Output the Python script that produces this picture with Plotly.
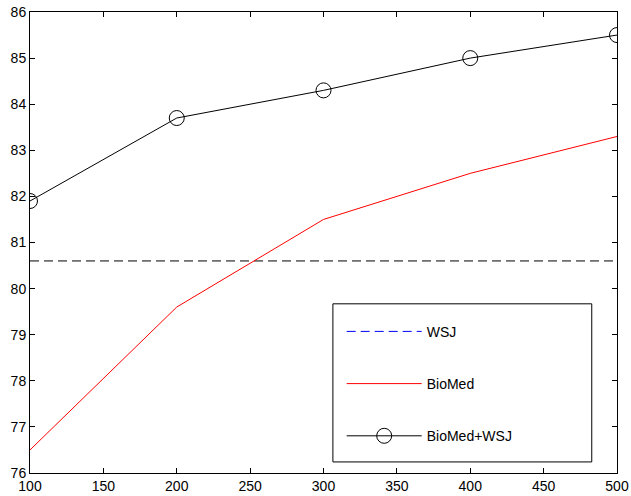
import plotly.graph_objects as go

x_vals = [100, 200, 300, 400, 500]
wsj_x = [100, 500]
wsj_vals = [80.6, 80.6]
biomed_vals = [76.5, 79.6, 81.5, 82.5, 83.3]
biomed_wsj_vals = [81.9, 83.7, 84.3, 85.0, 85.5]
series_names = ["WSJ", "BioMed", "BioMed+WSJ"]

fig = go.Figure()
fig.add_trace(go.Scatter(x=wsj_x, y=wsj_vals, mode="lines",
                         line=dict(color="black", width=1, dash="9px,5px"),
                         showlegend=False, hoverinfo="skip"))
fig.add_trace(go.Scatter(x=[None], y=[None], mode="lines", name=series_names[0],
                         line=dict(color="#0000ff", width=1, dash="9px,5px"),
                         legendgroup="a", showlegend=True))
fig.add_trace(go.Scatter(x=x_vals, y=biomed_vals, mode="lines", name=series_names[1],
                         line=dict(color="red", width=1), legendgroup="b"))
fig.add_trace(go.Scatter(x=x_vals, y=biomed_wsj_vals, mode="lines+markers", name=series_names[2],
                         line=dict(color="black", width=1),
                         marker=dict(symbol="circle-open", size=15, color="black",
                                     line=dict(width=1, color="black")),
                         legendgroup="c"))

axis_common = dict(showgrid=False, zeroline=False, showline=True, linecolor="black",
                   linewidth=1, mirror="ticks", ticks="inside", ticklen=5,
                   tickcolor="black", tickfont=dict(size=14, color="black"),
                   automargin=False)

fig.update_xaxes(range=[100, 500], dtick=50, tick0=100, **axis_common)
fig.update_yaxes(range=[76, 86], dtick=1, tick0=76, **axis_common)

# legend frame (matches the reference's wide legend box)
fig.add_shape(type="rect", xref="paper", yref="paper",
              x0=0.516, x1=0.957, y0=0.024, y1=0.367,
              line=dict(color="black", width=1), fillcolor="white", layer="below")

fig.update_layout(
    width=631, height=496,
    margin=dict(l=30, r=14, t=12, b=23),
    plot_bgcolor="white", paper_bgcolor="white",
    font=dict(family="Liberation Sans, Arial, sans-serif", size=14, color="black"),
    legend=dict(x=0.531, y=0.341, xanchor="left", yanchor="top",
                bgcolor="rgba(0,0,0,0)", borderwidth=0,
                itemwidth=75, tracegroupgap=31, traceorder="grouped",
                font=dict(size=14)),
)

fig.write_html("out.html", config={"displayModeBar": False},
               post_script="document.body.style.margin='0';document.body.style.overflow='hidden';")
